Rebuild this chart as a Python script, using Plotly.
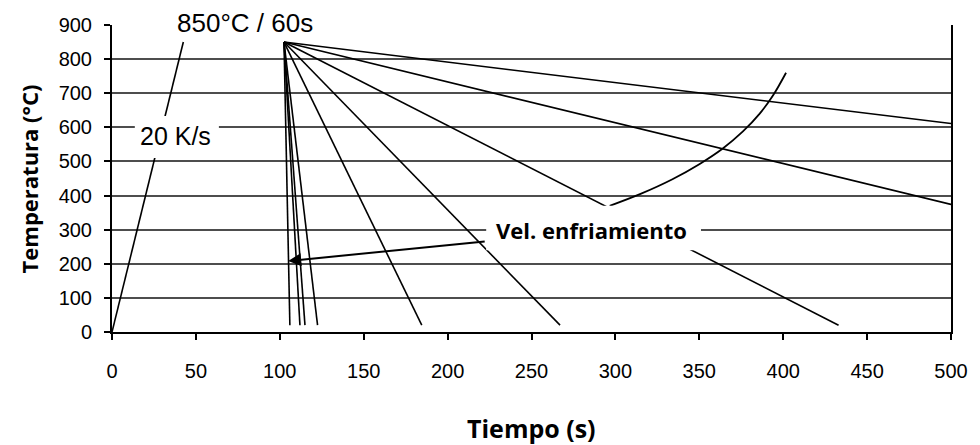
import plotly.graph_objects as go

# Heating ramp (20 K/s) to 850 °C
heat_t = [0, 42.5]
heat_T = [0, 850]

# Start of cooling (after 60 s hold)
cool_start_t = 102.5
cool_start_T = 850

# End points of the cooling curves
cool_end_t = [500, 500, 433, 267, 184.6, 122.5, 115, 112, 106]
cool_end_T = [611, 374, 20, 20, 20, 20, 20, 20, 20]

# Transformation curve (nose)
cct_t = [296.6, 315.0, 334.0, 350.0, 364.0, 376.0, 386.0, 394.0, 401.7]
cct_T = [370, 405, 448, 492, 538, 588, 640, 694, 760]

x_ticks = [0, 50, 100, 150, 200, 250, 300, 350, 400, 450, 500]
y_ticks = [0, 100, 200, 300, 400, 500, 600, 700, 800, 900]

LINE = dict(color="black", width=1.6)

fig = go.Figure()
fig.add_trace(go.Scatter(x=heat_t, y=heat_T, mode="lines", line=LINE, hoverinfo="skip"))
for te, Te in zip(cool_end_t, cool_end_T):
    fig.add_trace(go.Scatter(x=[cool_start_t, te], y=[cool_start_T, Te], mode="lines",
                             line=LINE, hoverinfo="skip"))
fig.add_trace(go.Scatter(x=cct_t, y=cct_T, mode="lines",
                         line=dict(color="black", width=1.8, shape="spline", smoothing=1.0),
                         hoverinfo="skip"))

# white label boxes (hide lines behind labels)
fig.add_shape(type="rect", xref="x", yref="paper", x0=34, x1=195, y0=870 / 900, y1=1.06,
              fillcolor="white", line=dict(width=0), layer="above")
for x0, x1, y0, y1 in [(13.6, 63.7, 510, 633), (223, 351, 240, 370)]:
    fig.add_shape(type="rect", xref="x", yref="y", x0=x0, x1=x1, y0=y0, y1=y1,
                  fillcolor="white", line=dict(width=0), layer="above")

TF = "Liberation Sans, Arial, sans-serif"
BF = "Open Sans, sans-serif"
fig.add_annotation(x=79, y=900, yshift=2, text="850°C / 60s", showarrow=False,
                   font=dict(family=TF, size=26, color="black"))
fig.add_annotation(x=37.7, y=575, text="20 K/s", showarrow=False,
                   font=dict(family=TF, size=25, color="black"))
fig.add_annotation(x=286, y=300, text="<b>Vel. enfriamiento</b>", showarrow=False,
                   font=dict(family=BF, size=22, color="black"))
fig.add_annotation(x=105, y=208, ax=223, ay=266, axref="x", ayref="y", xref="x", yref="y",
                   text="", showarrow=True, arrowhead=2, arrowsize=1.3, arrowwidth=2,
                   arrowcolor="black")

# axis titles
fig.add_annotation(x=0.5, y=-0.3127, xref="paper", yref="paper", text="<b>Tiempo (s)</b>",
                   showarrow=False, yanchor="middle",
                   font=dict(family=BF, size=25, color="black"))
fig.add_annotation(x=-0.0990, y=0.5, xref="paper", yref="paper", text="<b>Temperatura (°C)</b>",
                   showarrow=False, textangle=-90, xanchor="center", yanchor="middle",
                   font=dict(family=BF, size=22, color="black"))

fig.update_layout(
    width=980, height=445,
    margin=dict(l=112, r=20, t=25, b=113),
    paper_bgcolor="white", plot_bgcolor="white",
    showlegend=False,
)
fig.update_xaxes(range=[0, 500], tickvals=x_ticks, ticktext=[str(v) for v in x_ticks],
                 showgrid=False, zeroline=False, showline=True, linecolor="black", linewidth=2,
                 ticks="outside", ticklen=6, tickwidth=1.5, tickcolor="black",
                 ticklabelstandoff=14,
                 tickfont=dict(family=TF, size=20, color="black"))
fig.update_yaxes(range=[0, 900], tickvals=y_ticks, ticktext=[str(v) for v in y_ticks],
                 showgrid=True, gridcolor="#4d4d4d", gridwidth=1.6, zeroline=False,
                 showline=True, linecolor="black", linewidth=2, mirror=True,
                 ticks="outside", ticklen=6, tickwidth=1.5, tickcolor="black",
                 ticklabelstandoff=8,
                 tickfont=dict(family=TF, size=20, color="black"))

fig.write_html("out.html")
